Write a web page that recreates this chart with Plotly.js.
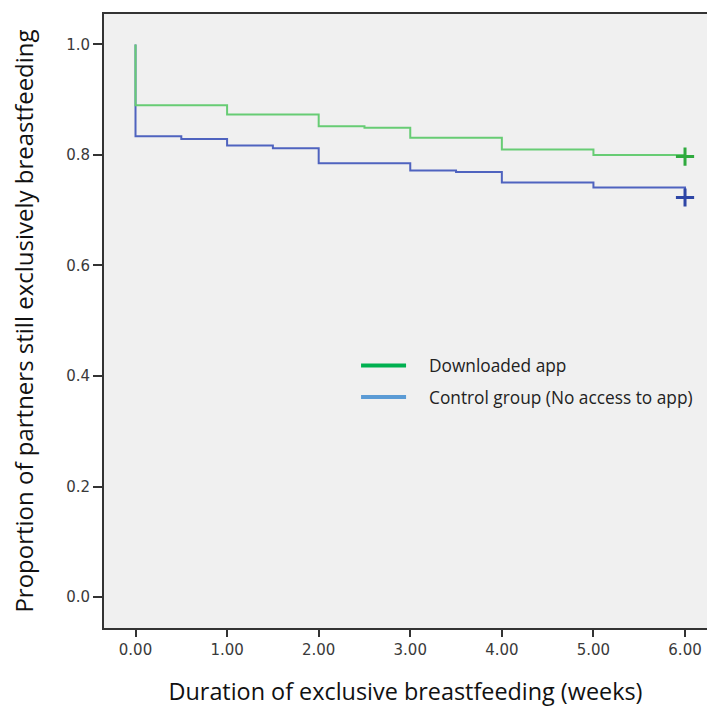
<!DOCTYPE html>
<html>
<head>
<meta charset="utf-8">
<script src="https://cdn.plot.ly/plotly-3.0.1.min.js"></script>
<style>html,body{margin:0;padding:0;background:#fff;}#chart{width:707px;height:711px;}</style>
</head>
<body>
<div id="chart"></div>
<script>
// Kaplan-Meier step data
const appWeeks      = [0, 0, 1, 2, 2.5, 3, 4, 5, 6];
const appSurvival   = [1.0, 0.890, 0.873, 0.852, 0.849, 0.831, 0.810, 0.800, 0.797];
const ctrlWeeks     = [0, 0, 0.5, 1, 1.5, 2, 3, 3.5, 4, 5, 6];
const ctrlSurvival  = [1.0, 0.834, 0.829, 0.817, 0.812, 0.785, 0.772, 0.769, 0.750, 0.741, 0.723];
const appCensorX    = [6];
const appCensorY    = [0.797];
const ctrlCensorX   = [6];
const ctrlCensorY   = [0.723];
const seriesNames   = ["Downloaded app", "Control group (No access to app)"];
const xTickVals     = [0, 1, 2, 3, 4, 5, 6];
const xTickText     = ["0.00", "1.00", "2.00", "3.00", "4.00", "5.00", "6.00"];
const yTickVals     = [0, 0.2, 0.4, 0.6, 0.8, 1.0];
const yTickText     = ["0.0", "0.2", "0.4", "0.6", "0.8", "1.0"];

const pad = '\u00a0\u00a0\u00a0\u00a0';
const traces = [
  {x: ctrlWeeks, y: ctrlSurvival, mode: 'lines', line: {shape: 'hv', color: '#4f63bf', width: 2}, showlegend: false, hoverinfo: 'skip'},
  {x: appWeeks, y: appSurvival, mode: 'lines', line: {shape: 'hv', color: '#67cc74', width: 2}, showlegend: false, hoverinfo: 'skip'},
  {x: appCensorX, y: appCensorY, mode: 'markers', marker: {symbol: 'cross-thin', size: 13, line: {color: '#2faa3e', width: 3}}, showlegend: false},
  {x: ctrlCensorX, y: ctrlCensorY, mode: 'markers', marker: {symbol: 'cross-thin', size: 13, line: {color: '#2e46a6', width: 3}}, showlegend: false},
  {x: [null], y: [null], mode: 'lines', name: pad + seriesNames[0], line: {color: '#00b050', width: 4}, legend: 'legend'},
  {x: [null], y: [null], mode: 'lines', name: pad + seriesNames[1], line: {color: '#5b9bd5', width: 4}, legend: 'legend2'}
];

const legendFont = {family: 'Open Sans, sans-serif', size: 17.3, color: '#222'};
const layout = {
  width: 707, height: 711,
  margin: {l: 104, r: 0, t: 14, b: 83},
  paper_bgcolor: '#ffffff',
  plot_bgcolor: '#f0f0f0',
  xaxis: {
    range: [-0.344, 6.24],
    tickvals: xTickVals, ticktext: xTickText,
    ticks: 'outside', ticklen: 7, tickwidth: 2, tickcolor: '#333',
    showline: true, linecolor: '#333', linewidth: 2, mirror: true,
    showgrid: false, zeroline: false,
    tickfont: {family: 'DejaVu Sans, sans-serif', size: 15, color: '#3a3a3a'},
    title: {text: 'Duration of exclusive breastfeeding (weeks)', font: {family: 'Open Sans, sans-serif', size: 23.4, color: '#111'}, standoff: 26}
  },
  yaxis: {
    range: [-0.056, 1.055],
    tickvals: yTickVals, ticktext: yTickText,
    ticks: 'outside', ticklen: 9, tickwidth: 2, tickcolor: '#333',
    showline: true, linecolor: '#333', linewidth: 2, mirror: false,
    showgrid: false, zeroline: false,
    tickfont: {family: 'DejaVu Sans, sans-serif', size: 15, color: '#3a3a3a'},
    title: {text: 'Proportion of partners still exclusively breastfeeding', font: {family: 'Open Sans, sans-serif', size: 24, color: '#111'}, standoff: 26}
  },
  legend: {x: 0.418, y: 0.427, xanchor: 'left', yanchor: 'middle', bgcolor: 'rgba(0,0,0,0)', font: legendFont, itemwidth: 45},
  legend2: {x: 0.418, y: 0.376, xanchor: 'left', yanchor: 'middle', bgcolor: 'rgba(0,0,0,0)', font: legendFont, itemwidth: 45},
  showlegend: true
};

Plotly.newPlot('chart', traces, layout, {displayModeBar: false, staticPlot: true});
</script>
</body>
</html>
